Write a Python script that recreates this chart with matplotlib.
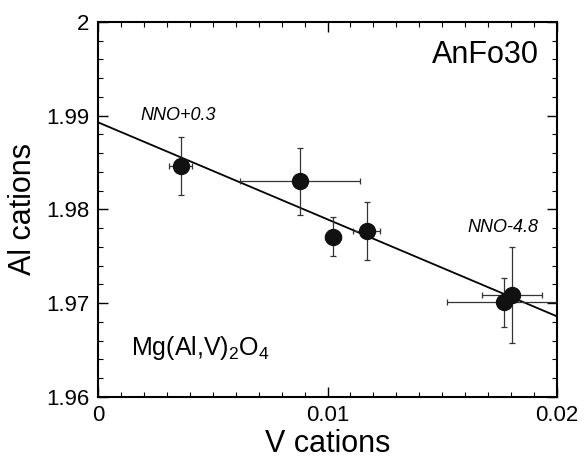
import matplotlib.pyplot as plt
import numpy as np
from matplotlib.ticker import MultipleLocator, FixedFormatter, FixedLocator

plt.rcParams['font.family'] = ['Liberation Sans', 'DejaVu Sans']
plt.rcParams['mathtext.fontset'] = 'custom'
plt.rcParams['mathtext.rm'] = 'Liberation Sans'

# data
v_cations = [0.0036, 0.0088, 0.01025, 0.0117, 0.0177, 0.01805]
al_cations = [1.9846, 1.9830, 1.9771, 1.9777, 1.9701, 1.9709]
v_err = [0.0005, 0.0026, 0.00035, 0.0006, 0.0025, 0.0013]
al_err = [0.0031, 0.0036, 0.0021, 0.0031, 0.0026, 0.0051]

fit_intercept = 1.9893
fit_slope = -1.035

fig = plt.figure(figsize=(5.84, 4.62), dpi=100)
ax = fig.add_axes([0.1678, 0.1407, 0.786, 0.8117])

xs = np.array([0.0, 0.02])
ax.plot(xs, fit_intercept + fit_slope * xs, color='black', lw=1.3, zorder=2)

ax.errorbar(v_cations, al_cations, xerr=v_err, yerr=al_err, fmt='none',
            ecolor='#333333', elinewidth=0.9, capsize=2.5, capthick=0.9, zorder=3)
ax.plot(v_cations, al_cations, 'o', color='#111111', ms=11.5, zorder=4)

ax.set_xlim(0, 0.02)
ax.set_ylim(1.96, 2.0)
ax.xaxis.set_major_locator(FixedLocator([0, 0.01, 0.02]))
ax.xaxis.set_major_formatter(FixedFormatter(['0', '0.01', '0.02']))
ax.xaxis.set_minor_locator(MultipleLocator(0.001))
ax.yaxis.set_major_locator(FixedLocator([1.96, 1.97, 1.98, 1.99, 2.0]))
ax.yaxis.set_major_formatter(FixedFormatter(['1.96', '1.97', '1.98', '1.99', '2']))
ax.yaxis.set_minor_locator(MultipleLocator(0.002))

ax.tick_params(which='both', direction='in', top=True, right=True)
ax.tick_params(which='major', length=7, width=1, labelsize=16, pad=6)
ax.tick_params(which='minor', length=3.5, width=0.8)
for s in ax.spines.values():
    s.set_linewidth(1.5)

ax.set_xlabel('V cations', fontsize=22, labelpad=2)
ax.set_ylabel('Al cations', fontsize=22, labelpad=6)

ax.text(0.01922, 1.9965, 'AnFo30', fontsize=22, ha='right', va='center')
ax.text(0.00186, 1.9900, 'NNO+0.3', fontsize=13, style='italic', ha='left', va='center')
ax.text(0.01917, 1.9781, 'NNO-4.8', fontsize=13, style='italic', ha='right', va='center')
ax.text(0.00143, 1.9645, 'Mg(Al,V)$_2$O$_4$', fontsize=18, ha='left', va='baseline')

fig.savefig('out.png', dpi=100)
